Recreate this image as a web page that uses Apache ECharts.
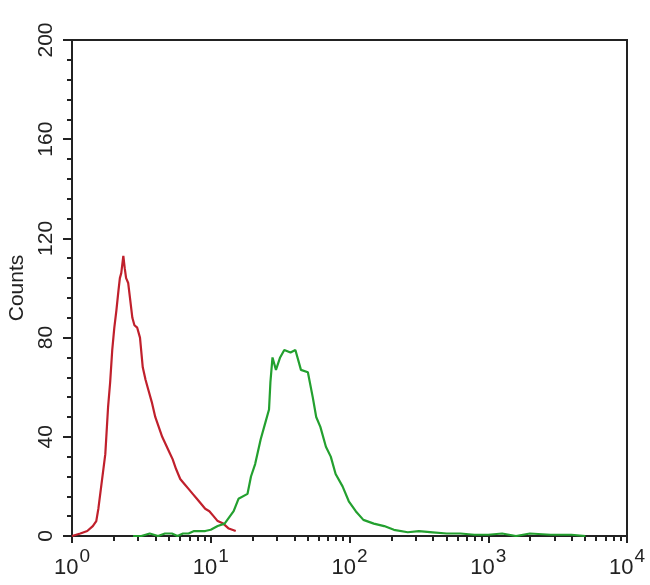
<!DOCTYPE html>
<html>
<head>
<meta charset="utf-8">
<script src="https://cdn.jsdelivr.net/npm/echarts@6/dist/echarts.min.js"></script>
<style>
html,body{margin:0;padding:0;background:#fff;}
#chart{width:650px;height:585px;}
</style>
</head>
<body>
<div id="chart"></div>
<script>
// x positions are log10 of fluorescence intensity (axis 10^0 .. 10^4)
const redLogIntensity = [0.0, 0.06, 0.11, 0.15, 0.175, 0.19, 0.215, 0.24, 0.26, 0.275, 0.29, 0.305, 0.32, 0.335, 0.345, 0.355, 0.37, 0.38, 0.39, 0.405, 0.42, 0.435, 0.45, 0.47, 0.49, 0.51, 0.53, 0.55, 0.575, 0.6, 0.625, 0.65, 0.675, 0.7, 0.725, 0.75, 0.78, 0.81, 0.84, 0.87, 0.9, 0.93, 0.96, 0.99, 1.02, 1.05, 1.09, 1.13, 1.18];
const redCounts = [0, 1, 2, 4, 6, 11, 22, 33, 52, 62, 75, 84, 91, 99, 104, 106, 113, 108, 104, 102, 95, 88, 85, 84, 80, 68, 63, 59, 54, 48, 44, 40, 37, 34, 31, 27, 23, 21, 19, 17, 15, 13, 11, 10, 8, 6, 5, 3, 2];

const greenLogIntensity = [0.44, 0.5, 0.56, 0.62, 0.67, 0.72, 0.76, 0.8, 0.84, 0.88, 0.92, 0.96, 1.0, 1.05, 1.1, 1.165, 1.2, 1.265, 1.29, 1.32, 1.36, 1.395, 1.42, 1.43, 1.445, 1.47, 1.5, 1.53, 1.575, 1.61, 1.635, 1.65, 1.7, 1.735, 1.76, 1.79, 1.83, 1.865, 1.9, 1.95, 1.995, 2.045, 2.1, 2.175, 2.25, 2.32, 2.42, 2.5, 2.6, 2.7, 2.8, 2.9, 3.0, 3.1, 3.2, 3.3, 3.45, 3.6, 3.7];
const greenCounts = [0, 0, 1, 0, 1, 1, 0, 1, 1, 2, 2, 2, 2.5, 4, 5, 10, 15, 17, 24, 29, 39, 46, 51, 62, 72, 67, 72, 75, 74, 75, 70, 67, 66, 56, 48, 44, 36, 32, 25, 20, 14, 10, 6.5, 5, 4, 2.5, 1.5, 2, 1.5, 1, 1, 0.5, 0.5, 1, 0, 1, 0.5, 0.5, 0];

const xDecades = [0, 1, 2, 3, 4];          // tick labels 10^0 .. 10^4
const yTicks = [0, 40, 80, 120, 160, 200];
const yName = 'Counts';

// minor log ticks at 2..9 of each decade
const xMinorTicks = [];
for (let d = 0; d < 4; d++) {
  for (let k = 2; k <= 9; k++) xMinorTicks.push(d + Math.log10(k));
}

const ink = '#222';
const sans = "'Liberation Sans', Arial, Helvetica, sans-serif";

const chart = echarts.init(document.getElementById('chart'), null, {renderer: 'canvas'});
chart.setOption({
  animation: false,
  backgroundColor: '#fff',
  grid: {left: 72, right: 23, top: 40, bottom: 49, containLabel: false, outerBoundsMode: 'none',
    show: true, borderColor: ink, borderWidth: 2, backgroundColor: 'transparent'},
  xAxis: [{
    type: 'value', min: 0, max: 4, position: 'bottom',
    axisLine: {show: true, onZero: false, lineStyle: {color: ink, width: 2}},
    axisTick: {show: true, customValues: xDecades, length: 7, lineStyle: {color: ink, width: 2}},
    axisLabel: {
      customValues: xDecades, margin: 11, color: ink,
      formatter: v => '{b|10}{s|' + v + '}',
      rich: {
        b: {fontFamily: sans, fontSize: 22, lineHeight: 32, verticalAlign: 'bottom', color: ink},
        s: {fontFamily: sans, fontSize: 19, lineHeight: 19, verticalAlign: 'top', color: ink, padding: [0, 0, 0, 1]}
      }
    },
    splitLine: {show: false}
  }, {
    type: 'value', min: 0, max: 4, position: 'bottom',
    axisLine: {show: false},
    axisTick: {show: true, customValues: xMinorTicks, length: 5, lineStyle: {color: ink, width: 2}},
    axisLabel: {show: false},
    splitLine: {show: false}
  }],
  yAxis: {
    type: 'value', min: 0, max: 200, interval: 40,
    name: yName, nameLocation: 'middle', nameGap: 44, nameRotate: 90,
    nameTextStyle: {fontFamily: sans, fontSize: 21, color: ink},
    axisLine: {show: true, lineStyle: {color: ink, width: 2}},
    axisTick: {show: true, length: 9, lineStyle: {color: ink, width: 2}},
    minorTick: {show: true, splitNumber: 5, length: 5, lineStyle: {color: ink, width: 2}},
    axisLabel: {rotate: 90, margin: 15, fontFamily: sans, fontSize: 21, color: ink,
      customValues: yTicks},
    splitLine: {show: false}
  },
  series: [{
    type: 'line', name: 'control', xAxisIndex: 0,
    data: redLogIntensity.map((x, i) => [x, redCounts[i]]),
    showSymbol: false, lineStyle: {color: '#c0202c', width: 2.2}, z: 3
  }, {
    type: 'line', name: 'sample', xAxisIndex: 0,
    data: greenLogIntensity.map((x, i) => [x, greenCounts[i]]),
    showSymbol: false, lineStyle: {color: '#23a02f', width: 2.2}, z: 4
  }]
});
</script>
</body>
</html>
